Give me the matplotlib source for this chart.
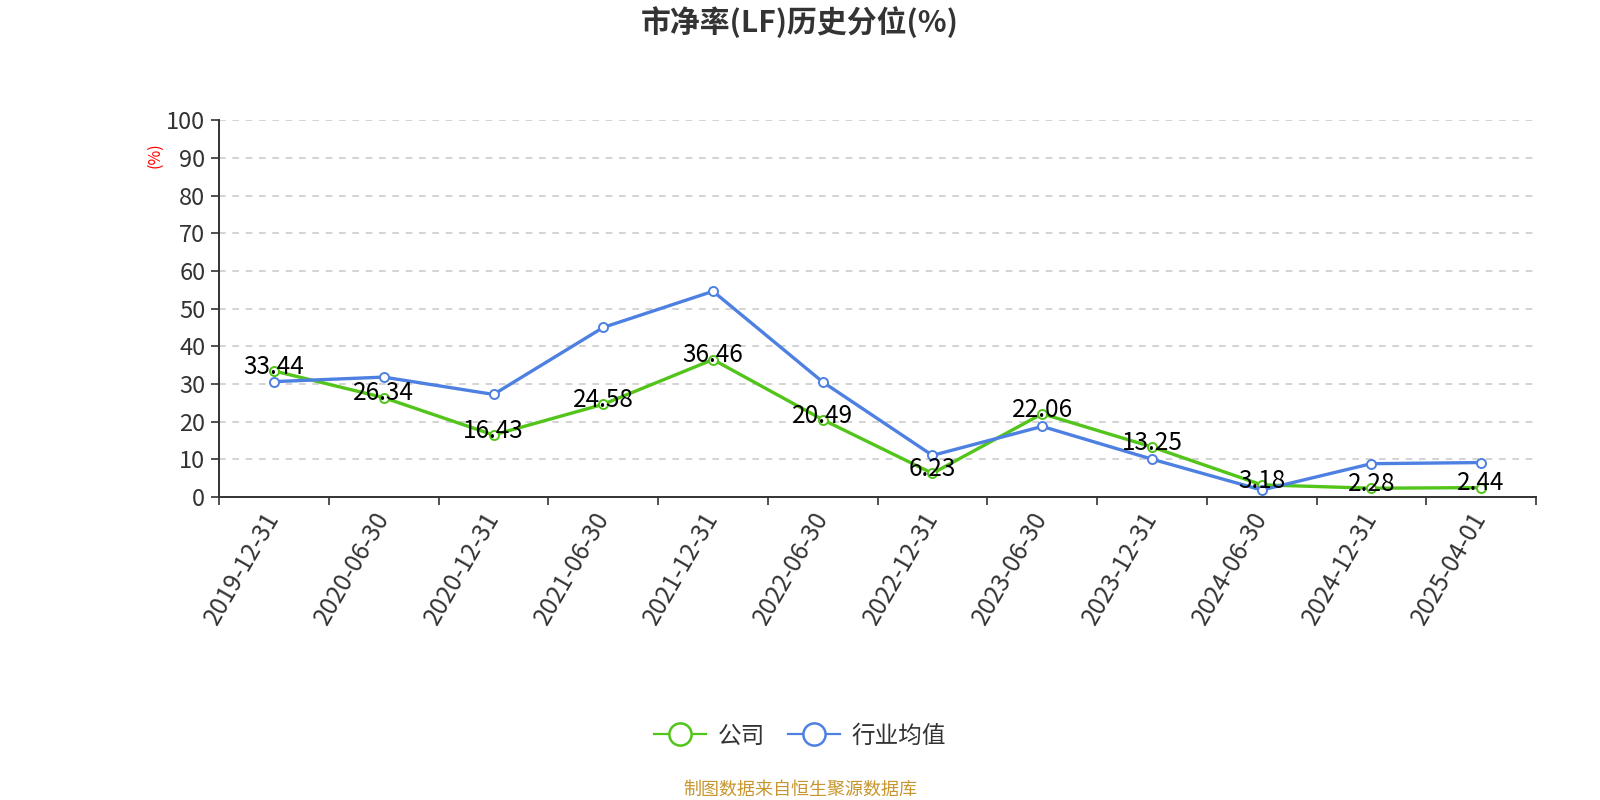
import matplotlib
matplotlib.use("Agg")
import matplotlib.pyplot as plt
from matplotlib.lines import Line2D

plt.rcParams["font.family"] = ["Noto Sans CJK SC", "DejaVu Sans"]

dates = ["2019-12-31", "2020-06-30", "2020-12-31", "2021-06-30", "2021-12-31",
         "2022-06-30", "2022-12-31", "2023-06-30", "2023-12-31", "2024-06-30",
         "2024-12-31", "2025-04-01"]
company = [33.44, 26.34, 16.43, 24.58, 36.46, 20.49, 6.23, 22.06, 13.25, 3.18, 2.28, 2.44]
industry = [30.6, 31.8, 27.2, 45.0, 54.6, 30.5, 11.0, 18.7, 10.0, 1.8, 8.8, 9.1]
yticks = [0, 10, 20, 30, 40, 50, 60, 70, 80, 90, 100]

GREEN = "#52c41a"
BLUE = "#4e80e2"
TXT = "#333333"

fig = plt.figure(figsize=(16, 8), dpi=100)
ax = fig.add_axes([0.137, 0.379, 0.823, 0.4705])

x = list(range(len(dates)))
ax.plot(x, company, color=GREEN, lw=2.4, marker="o", ms=6.5, mfc="white",
        mec=GREEN, mew=1.4, zorder=3)
ax.plot(x, industry, color=BLUE, lw=2.4, marker="o", ms=6.5, mfc="white",
        mec=BLUE, mew=1.4, zorder=4)

for xi, v in zip(x, company):
    ax.annotate(f"{v:.2f}", (xi, v), xytext=(0, 3), textcoords="offset points",
                ha="center", va="center", fontsize=17.5, color="black", zorder=5)

ax.set_xlim(-0.5, len(dates) - 0.5)
ax.set_ylim(0, 100)
ax.set_yticks(yticks)
ax.set_yticklabels([str(t) for t in yticks], fontsize=17, color=TXT)
ax.set_xticks(x)
ax.set_xticklabels(dates, rotation=60, ha="right", va="center",
                   rotation_mode="anchor", fontsize=17.5, color=TXT)
ax.set_xticks([i - 0.5 for i in range(len(dates) + 1)], minor=True)
ax.tick_params(axis="x", which="major", length=0, pad=12)
ax.tick_params(axis="x", which="minor", length=6, width=1.2, color=TXT)
ax.tick_params(axis="y", length=6, width=1.2, color=TXT, pad=4)

for t in yticks[1:]:
    ax.axhline(t, color="#cccccc", lw=1.2, ls=(0, (4, 4)), zorder=1)

for side in ("top", "right"):
    ax.spines[side].set_visible(False)
for side in ("left", "bottom"):
    ax.spines[side].set_color(TXT)
    ax.spines[side].set_linewidth(1.4)

fig.text(0.097, 0.806, "(%)", color="red", fontsize=11.5, rotation=90,
         ha="center", va="center")

fig.text(0.5, 0.972, "市净率(LF)历史分位(%)", fontsize=21.5, fontweight="bold",
         color=TXT, ha="center", va="center")

handles = [
    Line2D([], [], color=GREEN, lw=1.6, marker="o", ms=16, mfc="white", mec=GREEN, mew=1.8),
    Line2D([], [], color=BLUE, lw=1.6, marker="o", ms=16, mfc="white", mec=BLUE, mew=1.8),
]
fig.legend(handles, ["公司", "行业均值"], loc="center", bbox_to_anchor=(0.5, 0.08),
           ncol=2, frameon=False, fontsize=17, handlelength=2.2, columnspacing=1.0,
           handletextpad=0.5, labelcolor=TXT)

fig.text(0.5, 0.0125, "制图数据来自恒生聚源数据库", fontsize=13, color="#c8962e",
         ha="center", va="center")

fig.savefig("out.png", dpi=100)
